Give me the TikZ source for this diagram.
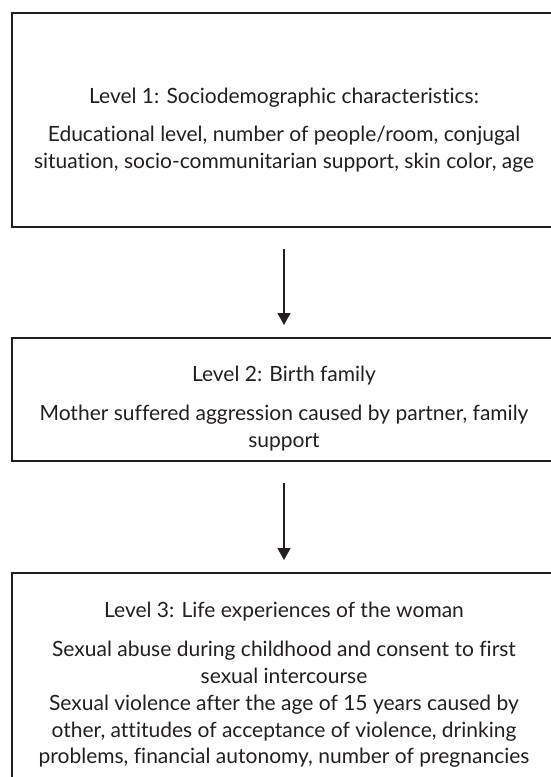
\documentclass[tikz,border=0pt]{standalone}
\usepackage{fontspec}
\setmainfont{Lato}[Ligatures=NoCommon]
\usetikzlibrary{arrows.meta}
\definecolor{ink}{HTML}{231F20}
\tikzset{
    level/.style={draw=ink, line width=0.85pt, minimum width=272pt, inner sep=0pt, anchor=north},
    leveltext/.style={align=center, inner sep=0pt, anchor=north, text=ink, font=\fontsize{10.5}{13.4}\selectfont},
    down/.style={draw=ink, line width=0.65pt, -{Triangle[length=6pt,width=6.5pt]}},
}
\begin{document}
\begin{tikzpicture}[x=0.5pt,y=-0.5pt]
    \useasboundingbox (0,0) rectangle (551,777);

    \node[level, minimum height=107pt] (box1) at (284,12) {};
    \node[level, minimum height=61.5pt] (box2) at (284,337) {};
    \node[level, minimum height=120pt] (box3) at (284,572) {};

    \node[leveltext] (lv1) at (284,88) {Level 1: Sociodemographic characteristics:\\[5.5pt]
        Educational level, number of people/room, conjugal\\
        situation, socio-communitarian support, skin color, age};
    \node[leveltext] (lv2) at (284,366) {Level 2: Birth family\\[6pt]
        Mother suffered aggression caused by partner, family\\
        support};
    \node[leveltext] (lv3) at (284,602) {Level 3: Life experiences of the woman\\[6pt]
        Sexual abuse during childhood and consent to first\\
        sexual intercourse\\
        Sexual violence after the age of 15 years caused by\\
        other, attitudes of acceptance of violence, drinking\\
        problems, financial autonomy, number of pregnancies};

    \draw[down, shorten <=10.5pt, shorten >=6pt] (box1) -- (box2);
    \draw[down, shorten <=10.5pt, shorten >=6pt] (box2) -- (box3);
\end{tikzpicture}
\end{document}
